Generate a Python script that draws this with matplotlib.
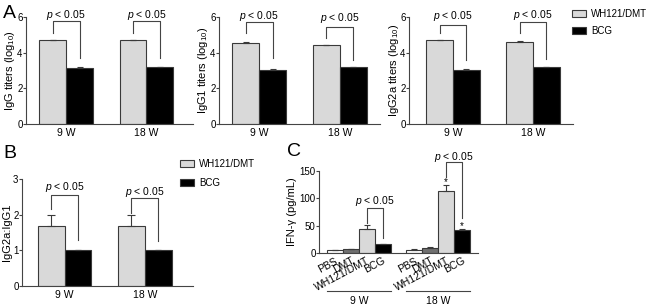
import numpy as np
import matplotlib
matplotlib.use("Agg")
import matplotlib.pyplot as plt
from matplotlib.patches import Patch

plt.rcParams['font.family'] = ['Liberation Sans', 'DejaVu Sans']
plt.rcParams['mathtext.fontset'] = 'custom'
plt.rcParams['mathtext.rm'] = 'Liberation Sans'
plt.rcParams['mathtext.it'] = 'Liberation Sans:italic'

W, H = 650, 306

# ---- data ----
weeks = ['9 W', '18 W']

igg_wh = [4.72, 4.72]
igg_wh_err = [0, 0]
igg_bcg = [3.13, 3.22]
igg_bcg_err = [0.07, 0]

igg1_wh = [4.53, 4.42]
igg1_wh_err = [0.07, 0]
igg1_bcg = [3.02, 3.22]
igg1_bcg_err = [0.07, 0]

igg2a_wh = [4.72, 4.6]
igg2a_wh_err = [0, 0.07]
igg2a_bcg = [3.03, 3.22]
igg2a_bcg_err = [0.07, 0]

ratio_wh = [1.67, 1.67]
ratio_wh_err = [0.33, 0.33]
ratio_bcg = [1.0, 1.0]
ratio_bcg_err = [0, 0]

c_groups = ['PBS', 'DMT', 'WH121/DMT', 'BCG']
ifn_9w = [5, 7, 44, 16]
ifn_9w_err = [0.5, 1, 7, 1]
ifn_18w = [6, 10, 114, 42]
ifn_18w_err = [0.5, 1, 11, 1.5]

# bracket (top, left leg bottom, right leg bottom, text y) per week
br_igg = [(5.78, 5.1, 3.7, 6.1), (5.78, 5.1, 3.7, 6.1)]
br_igg1 = [(5.73, 5.1, 3.7, 6.05), (5.44, 4.8, 3.6, 5.95)]
br_igg2a = [(5.55, 5.1, 3.6, 6.05), (5.72, 5.1, 3.65, 6.1)]
br_ratio = [(2.55, 2.15, 1.3, 2.77), (2.46, 2.04, 1.26, 2.63)]

LIGHT = '#d9d9d9'
DARK = '#000000'
EDGE = '#3a3a3a'
AX = '#444444'

fig = plt.figure(figsize=(W / 100, H / 100), dpi=100)


def px_axes(x0, x1, y0, y1):
    return fig.add_axes([x0 / W, 1 - y1 / H, (x1 - x0) / W, (y1 - y0) / H])


def style(ax):
    for s in ['top', 'right']:
        ax.spines[s].set_visible(False)
    for s in ['left', 'bottom']:
        ax.spines[s].set_color(AX)
        ax.spines[s].set_linewidth(0.8)
    ax.tick_params(axis='y', length=2, width=0.8, color=AX, labelsize=7, pad=0.5)
    ax.tick_params(axis='x', length=0, labelsize=7.5, pad=3)


def bracket(ax, x1, x2, top, lb, rb, ty):
    ax.plot([x1, x1, x2, x2], [lb, top, top, rb], color=AX, lw=0.8, clip_on=False)
    ax.text((x1 + x2) / 2, ty, '$p$ < 0.05', ha='center', va='center', fontsize=7.5,
            clip_on=False)


def set_ylabel_px(ax, text, xpx, x0, x1):
    ax.set_ylabel(text, fontsize=8)
    ax.yaxis.label.set_va('center')
    ax.yaxis.set_label_coords((xpx - x0) / (x1 - x0), 0.5)


def two_bar(ax, wh, wh_err, bcg, bcg_err, brs, ylim, yticks, xlim):
    x = np.arange(len(weeks))
    bw = 0.335
    ax.bar(x - bw / 2, wh, bw, color=LIGHT, edgecolor=EDGE, linewidth=0.8,
           yerr=[np.zeros(2), wh_err], error_kw=dict(ecolor=EDGE, elinewidth=0.8,
                                                     capsize=3 if ylim[1] < 5 else 2,
                                                     capthick=0.8))
    ax.bar(x + bw / 2, bcg, bw, color=DARK, edgecolor=EDGE, linewidth=0.8,
           yerr=[np.zeros(2), bcg_err], error_kw=dict(ecolor=EDGE, elinewidth=0.8,
                                                      capsize=2, capthick=0.8))
    for i, (top, lb, rb, ty) in enumerate(brs):
        bracket(ax, x[i] - bw / 2, x[i] + bw / 2, top, lb, rb, ty)
    ax.set_xticks(x)
    ax.set_xticklabels(weeks)
    ax.set_ylim(*ylim)
    ax.set_yticks(yticks)
    ax.set_xlim(*xlim)
    style(ax)


# ---- panel A ----
a1 = px_axes(26, 193, 17, 124)
two_bar(a1, igg_wh, igg_wh_err, igg_bcg, igg_bcg_err, br_igg, (0, 6), [0, 2, 4, 6],
        (-0.5, 1.58))
set_ylabel_px(a1, 'IgG titers (log$_{10}$)', 10, 26, 193)
a2 = px_axes(219, 380, 17, 124)
two_bar(a2, igg1_wh, igg1_wh_err, igg1_bcg, igg1_bcg_err, br_igg1, (0, 6), [0, 2, 4, 6],
        (-0.5, 1.5))
set_ylabel_px(a2, 'IgG1 titers (log$_{10}$)', 203, 219, 380)
a3 = px_axes(409, 573, 17, 124)
two_bar(a3, igg2a_wh, igg2a_wh_err, igg2a_bcg, igg2a_bcg_err, br_igg2a, (0, 6),
        [0, 2, 4, 6], (-0.55, 1.5))
set_ylabel_px(a3, 'IgG2a titers (log$_{10}$)', 394, 409, 573)

# ---- panel B ----
b = px_axes(22, 193, 179, 286)
two_bar(b, ratio_wh, ratio_wh_err, ratio_bcg, ratio_bcg_err, br_ratio, (0, 3),
        [0, 1, 2, 3], (-0.53, 1.6))
set_ylabel_px(b, 'IgG2a:IgG1', 7.5, 22, 193)

# ---- panel C ----
c = px_axes(319, 478, 171, 253)
cols = ['#ffffff', '#707070', LIGHT, DARK]
pos9 = np.arange(4)
pos18 = np.arange(4) + 5
for pos, vals, errs in [(pos9, ifn_9w, ifn_9w_err), (pos18, ifn_18w, ifn_18w_err)]:
    c.bar(pos, vals, 1.0, color=cols, edgecolor=EDGE, linewidth=0.8,
          yerr=[np.zeros(4), errs],
          error_kw=dict(ecolor=EDGE, elinewidth=0.8, capsize=2, capthick=0.8))
c.set_xlim(-1.0, 9.0)
c.set_ylim(0, 150)
c.set_yticks([0, 50, 100, 150])
c.set_xticks(np.concatenate([pos9, pos18]))
c.set_xticklabels(c_groups * 2, rotation=28, ha='right', rotation_mode='anchor')
style(c)
c.tick_params(axis='x', pad=2, labelsize=7.5)
set_ylabel_px(c, 'IFN-γ (pg/mL)', 292, 319, 478)
# significance stars (18 W)
c.text(pos18[2], ifn_18w[2] + ifn_18w_err[2] + 4, '*', ha='center', va='center', fontsize=7)
c.text(pos18[3], ifn_18w[3] + ifn_18w_err[3] + 6, '*', ha='center', va='center', fontsize=7)
bracket(c, pos9[2], pos9[3], 82, 55, 27, 95)
bracket(c, pos18[2], pos18[3], 166, 139, 64, 176)
# group underlines
trans = c.get_xaxis_transform()
for pos, lab in [(pos9, weeks[0]), (pos18, weeks[1])]:
    c.plot([pos[0] - 0.5, pos[-1] + 0.5], [-0.46, -0.46], color=AX, lw=0.8,
           transform=trans, clip_on=False)
    c.text((pos[0] + pos[-1]) / 2, -0.52, lab, transform=trans, ha='center', va='top',
           fontsize=7.5)

# ---- legends ----
handles = [Patch(facecolor=LIGHT, edgecolor=EDGE, linewidth=0.8),
           Patch(facecolor=DARK, edgecolor=EDGE, linewidth=0.8)]
labels = ['WH121/DMT', 'BCG']
for lx, ly, sp in [(572, 9, 0.7), (180, 159, 0.9)]:
    fig.legend(handles, labels, loc='upper left', bbox_to_anchor=(lx / W, 1 - ly / H),
               frameon=False, fontsize=7, handlelength=1.4, handleheight=0.7,
               labelspacing=sp, handletextpad=0.6, borderpad=0, borderaxespad=0)

# ---- panel letters ----
fig.text(3 / W, 1 - 13 / H, 'A', fontsize=14, va='center')
fig.text(3 / W, 1 - 153 / H, 'B', fontsize=14, va='center')
fig.text(287 / W, 1 - 152 / H, 'C', fontsize=14, va='center')

fig.savefig('out.png', dpi=100)
